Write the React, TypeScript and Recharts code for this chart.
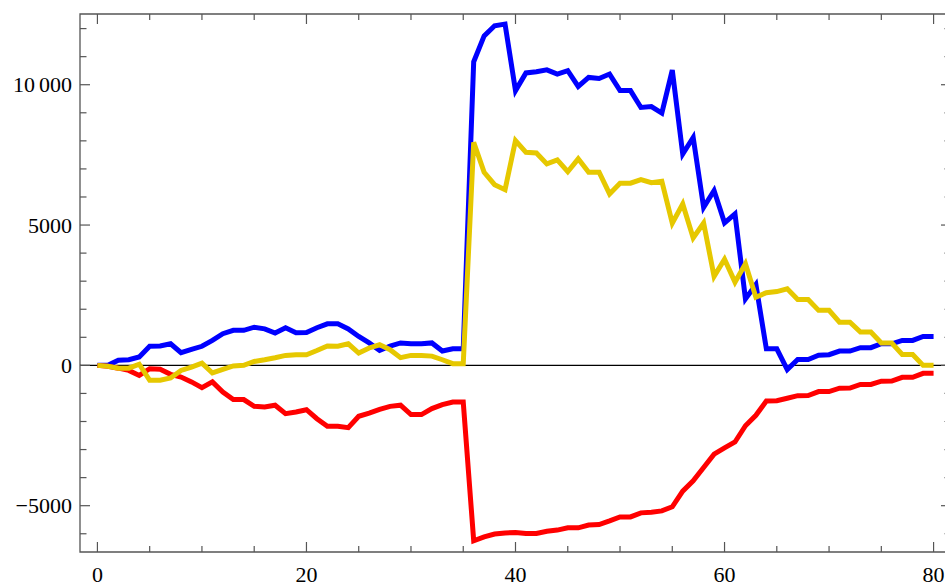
import React from 'react';
import { LineChart, Line, XAxis, YAxis, ReferenceLine, ReferenceArea } from 'recharts';

const xValues = Array.from({ length: 81 }, (_, i) => i);

const blueSeries = [
  0, 0, 180, 200, 300, 680, 690, 770, 450, 570,
  680, 890, 1130, 1250, 1250, 1360, 1300, 1150, 1340, 1160,
  1170, 1340, 1480, 1480, 1300, 1030, 800, 530, 690, 800,
  770, 770, 800, 510, 590, 590, 10820, 11740, 12100, 12160,
  9790, 10420, 10460, 10530, 10380, 10500, 9940, 10260, 10220, 10380,
  9790, 9790, 9190, 9220, 8990, 10520, 7530, 8120, 5630, 6230,
  5080, 5400, 2370, 2880, 590, 590, -150, 210, 210, 360,
  380, 510, 510, 630, 630, 770, 770, 890, 890, 1030,
  1030,
];

const redSeries = [
  0, -30, -100, -180, -360, -120, -140, -320, -415, -590,
  -795, -590, -950, -1220, -1220, -1460, -1480, -1420, -1720, -1660,
  -1580, -1900, -2170, -2170, -2220, -1815, -1700, -1565, -1460, -1420,
  -1755, -1755, -1540, -1400, -1305, -1305, -6250, -6110, -6010, -5970,
  -5955, -5990, -5990, -5910, -5870, -5790, -5790, -5690, -5670, -5540,
  -5400, -5400, -5255, -5230, -5185, -5040, -4480, -4115, -3640, -3165,
  -2940, -2730, -2150, -1780, -1270, -1260, -1170, -1080, -1075, -935,
  -935, -815, -810, -680, -680, -565, -560, -425, -425, -285,
  -285,
];

const yellowSeries = [
  0, -30, -100, -100, 40, -530, -530, -450, -180, -60,
  80, -270, -140, -20, 0, 140, 200, 270, 355, 380,
  380, 530, 690, 680, 770, 440, 620, 735, 560, 275,
  355, 355, 330, 200, 60, 60, 7950, 6880, 6440, 6260,
  8010, 7590, 7570, 7180, 7320, 6900, 7360, 6880, 6880, 6110,
  6490, 6490, 6620, 6510, 6560, 5070, 5750, 4540, 5070, 3170,
  3780, 2965, 3620, 2430, 2590, 2630, 2730, 2350, 2350, 1960,
  1960, 1540, 1540, 1190, 1190, 795, 795, 390, 390, 0,
  0,
];

const xTicks = Array.from({ length: 17 }, (_, i) => i * 5);
const yTicks = Array.from({ length: 19 }, (_, i) => -6000 + i * 1000);
const xLabels = [0, 20, 40, 60, 80];
const yLabels = [-5000, 0, 5000, 10000];

const X_DOMAIN = [-1.667, 81.667];
const Y_DOMAIN = [-6650, 12520];

const data = xValues.map((x, i) => ({
  x,
  blue: blueSeries[i],
  red: redSeries[i],
  yellow: yellowSeries[i],
}));

// plot box in page pixels
const TOP = 14;
const BOTTOM = 552;
const LEFT = 80;
const RIGHT = 951;
const FRAME = '#555';
const FONT = '"Liberation Serif", "Times New Roman", serif';

// digit grouping like Mathematica: 10000 -> "10" + small gap + "000"
function label(v: number) {
  const s = String(Math.abs(v));
  const sign = v < 0 ? '\u2212' : '';
  if (s.length > 4) {
    return (
      <>
        <tspan>{sign + s.slice(0, s.length - 3)}</tspan>
        <tspan dx={4}>{s.slice(-3)}</tspan>
      </>
    );
  }
  return sign + s;
}

function XTick(props: any) {
  const x = props.x;
  const v = props.payload?.value;
  const major = xLabels.includes(v);
  const len = major ? 10 : 6;
  return (
    <g>
      <line x1={x} x2={x} y1={BOTTOM} y2={BOTTOM - len} stroke={FRAME} strokeWidth={1.2} />
      <line x1={x} x2={x} y1={TOP} y2={TOP + len} stroke={FRAME} strokeWidth={1.2} />
      {major && (
        <text x={x} y={582} textAnchor="middle" fontFamily={FONT} fontSize={22} fill="#000">
          {label(v)}
        </text>
      )}
    </g>
  );
}

function YTick(props: any) {
  const y = props.y;
  const v = props.payload?.value;
  const major = yLabels.includes(v);
  const len = major ? 10 : 6.5;
  return (
    <g>
      <line x1={LEFT} x2={LEFT + len} y1={y} y2={y} stroke={FRAME} strokeWidth={1.2} />
      <line x1={RIGHT} x2={RIGHT - len} y1={y} y2={y} stroke={FRAME} strokeWidth={1.2} />
      {major && (
        <text x={72} y={y + 7.5} textAnchor="end" fontFamily={FONT} fontSize={22} fill="#000">
          {label(v)}
        </text>
      )}
    </g>
  );
}

export default function App() {
  return (
    <div
      style={{
        position: 'absolute',
        left: 0,
        top: 0,
        width: 945,
        height: 586,
        overflow: 'hidden',
        background: '#fff',
      }}
    >
      <LineChart
        width={952}
        height={586}
        data={data}
        margin={{ top: TOP, right: 952 - RIGHT, bottom: 0, left: 0 }}
      >
        <XAxis
          dataKey="x"
          type="number"
          domain={X_DOMAIN}
          allowDataOverflow
          ticks={xTicks}
          interval={0}
          height={586 - BOTTOM}
          axisLine={false}
          tickLine={false}
          tick={<XTick />}
        />
        <YAxis
          type="number"
          domain={Y_DOMAIN}
          allowDataOverflow
          ticks={yTicks}
          interval={0}
          width={LEFT}
          axisLine={false}
          tickLine={false}
          tick={<YTick />}
        />
        <ReferenceArea
          x1={X_DOMAIN[0]}
          x2={X_DOMAIN[1]}
          y1={Y_DOMAIN[0]}
          y2={Y_DOMAIN[1]}
          fill="none"
          stroke={FRAME}
          strokeWidth={1.3}
          strokeOpacity={1}
        />
        <ReferenceLine y={0} stroke="#000" strokeWidth={1.2} />
        <Line
          dataKey="blue"
          type="linear"
          stroke="#0000ff"
          strokeWidth={5}
          dot={false}
          isAnimationActive={false}
        />
        <Line
          dataKey="red"
          type="linear"
          stroke="#ff0000"
          strokeWidth={5}
          dot={false}
          isAnimationActive={false}
        />
        <Line
          dataKey="yellow"
          type="linear"
          stroke="#e6c800"
          strokeWidth={5}
          dot={false}
          isAnimationActive={false}
        />
      </LineChart>
    </div>
  );
}
